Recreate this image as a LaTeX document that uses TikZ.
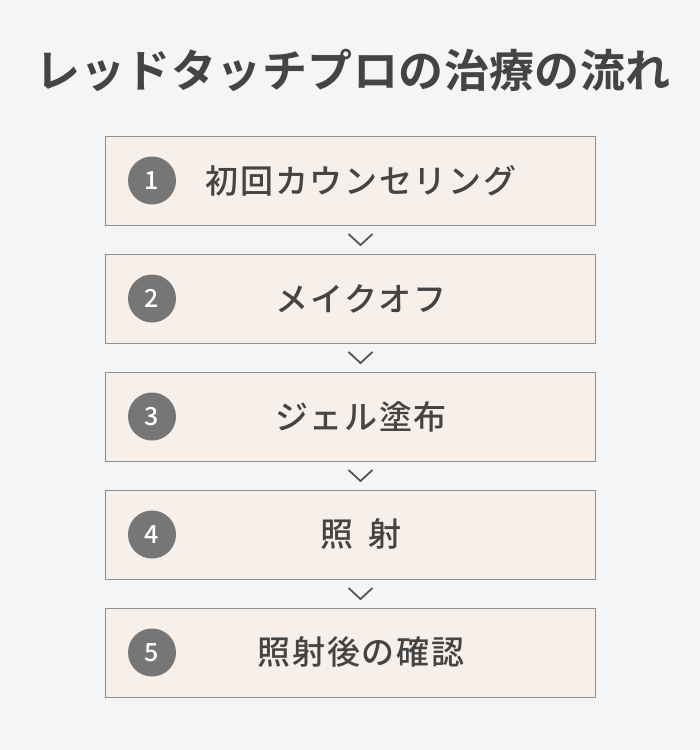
\documentclass[tikz,border=0pt]{standalone}
\usepackage{fontspec}
\usetikzlibrary{calc}
\setmainfont{Noto Sans CJK JP}
\newfontfamily\jpmed{Noto Sans CJK JP Medium}
\newfontfamily\jpstep[LetterSpace=5]{Noto Sans CJK JP Medium}
\newfontfamily\jptitle[LetterSpace=1]{Noto Sans CJK JP Bold}
\definecolor{bgc}{HTML}{F3F5F6}
\definecolor{boxfill}{HTML}{F7EFE9}
\definecolor{boxline}{HTML}{8E8E8E}
\definecolor{txt}{HTML}{444444}
\definecolor{numc}{HTML}{767676}
\definecolor{chev}{HTML}{555555}
\begin{document}
\begin{tikzpicture}[x=1pt,y=-1pt,
  stepbox/.style={draw=boxline,line width=1pt,fill=boxfill,minimum width=490pt,minimum height=89pt,inner sep=0pt,anchor=north west},
  numdot/.style={circle,fill=numc,minimum size=48pt,inner sep=0pt,text=white,font=\jpmed\fontsize{25}{25}\selectfont},
  steptext/.style={text=txt,font=\jpstep\fontsize{33}{33}\selectfont,anchor=center},
  chevline/.style={draw=chev,line width=1.8pt}]
\fill[bgc] (0,0) rectangle (700,750);
\useasboundingbox (0,0) rectangle (700,750);
\node[text=txt,font=\jptitle\fontsize{45}{45}\selectfont] (title) at (353,70) {レッドタッチプロの治療の流れ};
\foreach \i/\y/\t in {1/136/初回カウンセリング,2/254/メイクオフ,3/372/ジェル塗布,4/490/照\hspace{0.45em}射,5/608/照射後の確認}{
  \node[stepbox] (b\i) at (105,\y) {};
  \node[numdot] (n\i) at (152,\y+44.5) {\i};
  \node[steptext] (t\i) at (361,\y+44.5) {\t};
}
\foreach \i/\j in {1/2,2/3,3/4,4/5}{
  \coordinate (c\i) at ($(b\i.south)!0.5!(b\j.north)+(10,0)$);
  \draw[chevline] ($(c\i)+(-12,-6)$) -- ($(c\i)+(0,5)$) -- ($(c\i)+(12,-6)$);
}
\end{tikzpicture}
\end{document}
